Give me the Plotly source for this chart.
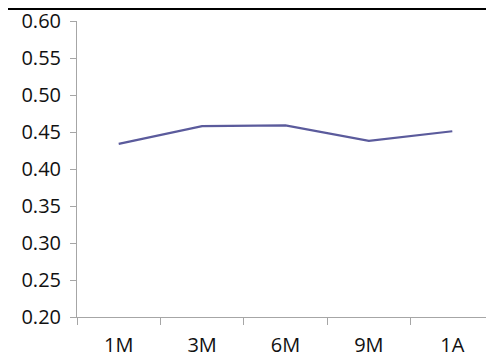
import plotly.graph_objects as go

categories = ["1M", "3M", "6M", "9M", "1A"]
values = [0.434, 0.458, 0.459, 0.438, 0.451]
y_ticks = [0.20, 0.25, 0.30, 0.35, 0.40, 0.45, 0.50, 0.55, 0.60]

# page body has an 8px margin, so the figure starts at (8, 8)
W, H = 486, 350
ml, mr, mt, mb = 69, 0, 13, 41
pw, ph = W - ml - mr, H - mt - mb

fig = go.Figure()
fig.add_trace(go.Scatter(
    x=categories, y=values, mode="lines",
    line=dict(color="#5b5b9c", width=2.2),
    hoverinfo="skip", showlegend=False,
))

font = dict(family="Open Sans", size=20, color="#111111")
fig.update_layout(
    width=W, height=H,
    margin=dict(l=ml, r=mr, t=mt, b=mb, pad=0, autoexpand=False),
    paper_bgcolor="white", plot_bgcolor="white",
    font=font,
    xaxis=dict(
        type="category", range=[-0.5, 4.5], automargin=False,
        showgrid=False, zeroline=False,
        showline=True, linecolor="#a6a6a6", linewidth=1,
        ticks="outside", tickson="boundaries", ticklen=7, tickcolor="#a6a6a6",
        tickfont=font, ticklabelstandoff=10, ticklabeloverflow="allow",
    ),
    yaxis=dict(
        range=[0.2, 0.6], tickvals=y_ticks, automargin=False,
        ticktext=[f"{v:.2f}" for v in y_ticks],
        showgrid=False, zeroline=False,
        showline=True, linecolor="#a6a6a6", linewidth=1,
        ticks="outside", ticklen=6, tickcolor="#a6a6a6",
        tickfont=font, ticklabelstandoff=5, ticklabeloverflow="allow",
    ),
    shapes=[dict(
        type="line", xref="paper", yref="paper",
        x0=-ml / pw, x1=1 + mr / pw,
        y0=1 + (mt - 1) / ph, y1=1 + (mt - 1) / ph,
        line=dict(color="black", width=2),
    )],
)

fig.write_html("out.html")
